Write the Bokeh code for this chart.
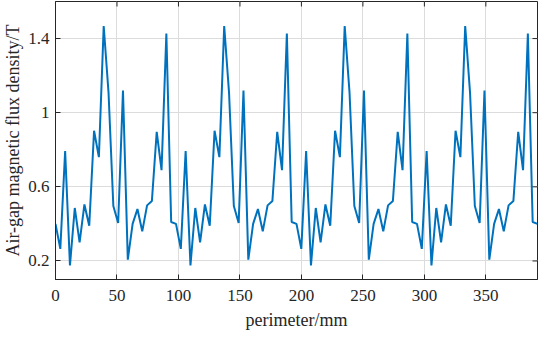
from bokeh.plotting import figure
from bokeh.models import FixedTicker, Range1d
from bokeh.embed import file_html
from bokeh.resources import INLINE
import numpy as np

# Air-gap flux density samples (T), 101 samples
flux_density = [
    0.40, 0.265, 0.793, 0.176, 0.486, 0.30, 0.505, 0.39, 0.903, 0.76, 1.468, 1.11, 0.497,
    0.405, 1.12, 0.207, 0.40, 0.48, 0.36, 0.50, 0.524, 0.897, 0.69, 1.427, 0.41,
    0.40, 0.265, 0.793, 0.176, 0.486, 0.30, 0.505, 0.39, 0.903, 0.76, 1.468, 1.11, 0.497,
    0.405, 1.12, 0.207, 0.40, 0.48, 0.36, 0.50, 0.524, 0.897, 0.69, 1.427, 0.41,
    0.40, 0.265, 0.793, 0.176, 0.486, 0.30, 0.505, 0.39, 0.903, 0.76, 1.468, 1.11, 0.497,
    0.405, 1.12, 0.207, 0.40, 0.48, 0.36, 0.50, 0.524, 0.897, 0.69, 1.427, 0.41,
    0.40, 0.265, 0.793, 0.176, 0.486, 0.30, 0.505, 0.39, 0.903, 0.76, 1.468, 1.11, 0.497,
    0.405, 1.12, 0.207, 0.40, 0.48, 0.36, 0.50, 0.524, 0.897, 0.69, 1.427, 0.41,
    0.40,
]
# sampling positions along the perimeter (mm), evenly spaced grid
perimeter = list(np.linspace(0, 392, len(flux_density)))

x_ticks = [0, 50, 100, 150, 200, 250, 300, 350]
y_ticks = [0.2, 0.6, 1.0, 1.4]
y_tick_labels = {0.2: "0.2", 0.6: "0.6", 1.0: "1", 1.4: "1.4"}
x_min, x_max = 0, 392
y_min, y_max = 0.1, 1.6

FONT = "Liberation Serif"
AX = "#262626"

p = figure(width=542, height=332, output_backend="svg", toolbar_location=None,
           x_range=Range1d(x_min, x_max), y_range=Range1d(y_min, y_max),
           min_border_left=0, min_border_right=5, min_border_top=1, min_border_bottom=0)

p.line(perimeter, flux_density, line_color="#0072BD", line_width=2)

p.outline_line_color = AX
p.outline_line_width = 1

p.xgrid.ticker = FixedTicker(ticks=x_ticks)
p.ygrid.ticker = FixedTicker(ticks=y_ticks)
for g in (p.xgrid, p.ygrid):
    g.grid_line_color = "#dcdcdc"
    g.grid_line_width = 1

p.xaxis.ticker = FixedTicker(ticks=x_ticks)
p.yaxis.ticker = FixedTicker(ticks=y_ticks)
p.yaxis.major_label_overrides = y_tick_labels
p.xaxis.axis_label = "perimeter/mm"
p.yaxis.axis_label = "Air-gap magnetic flux density/T"

for ax in (p.xaxis[0], p.yaxis[0]):
    ax.major_tick_in = 5
    ax.major_tick_out = 0
    ax.minor_tick_line_color = None
    ax.axis_line_color = AX
    ax.major_tick_line_color = AX
    ax.major_label_text_font = FONT
    ax.major_label_text_font_size = "17px"
    ax.major_label_text_color = "#262626"
    ax.axis_label_text_font = FONT
    ax.axis_label_text_font_size = "18px"
    ax.axis_label_text_font_style = "normal"
    ax.axis_label_text_color = "#262626"
p.xaxis.major_label_standoff = 10
p.xaxis.axis_label_standoff = 6
p.yaxis.major_label_standoff = 6
p.yaxis.axis_label_standoff = 2

# inward ticks on the top and right edges of the box (5px each, clipped by frame)
p.scatter(x=x_ticks, y=[y_max] * len(x_ticks), marker="dash", angle=np.pi / 2,
          size=10, line_color=AX, line_width=1)
p.scatter(x=[x_max] * len(y_ticks), y=y_ticks, marker="dash",
          size=10, line_color=AX, line_width=1)

open("out.html", "w").write(file_html(p, INLINE))
